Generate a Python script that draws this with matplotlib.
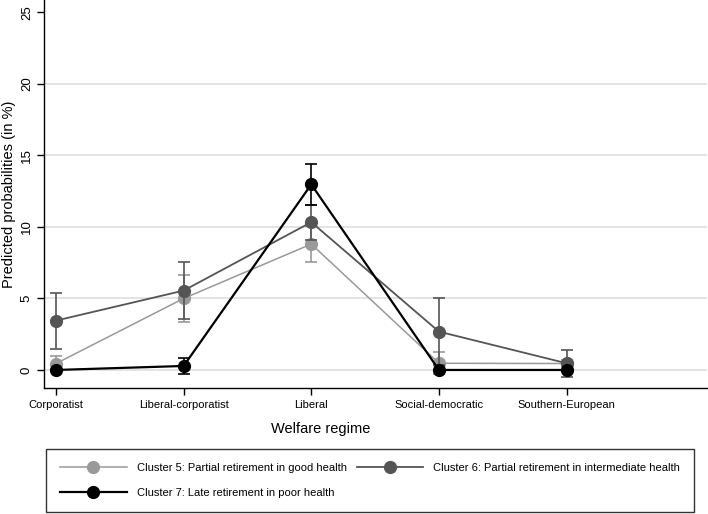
import numpy as np
import matplotlib
matplotlib.use("Agg")
import matplotlib.pyplot as plt

plt.rcParams['font.family'] = ['Liberation Sans', 'DejaVu Sans']

regimes = ['Corporatist', 'Liberal-corporatist', 'Liberal', 'Social-democratic', 'Southern-European']

# predicted probabilities (%) with lower / upper CI
c5_val = [0.45, 5.0, 8.8, 0.47, 0.45]
c5_lo = [-0.05, 3.35, 7.57, -0.3, 0.2]
c5_hi = [0.95, 6.65, 10.03, 1.24, 0.7]

c6_val = [3.45, 5.55, 10.33, 2.68, 0.47]
c6_lo = [1.5, 3.55, 9.1, 0.36, -0.46]
c6_hi = [5.4, 7.55, 11.5, 5.0, 1.4]

c7_val = [0.0, 0.28, 12.97, 0.0, 0.0]
c7_lo = [0.0, -0.26, 11.5, 0.0, 0.0]
c7_hi = [0.0, 0.82, 14.4, 0.0, 0.0]

series = [
    ('Cluster 5: Partial retirement in good health', c5_val, c5_lo, c5_hi, '#999999', 1.1),
    ('Cluster 6: Partial retirement in intermediate health', c6_val, c6_lo, c6_hi, '#555555', 1.3),
    ('Cluster 7: Late retirement in poor health', c7_val, c7_lo, c7_hi, '#000000', 1.6),
]

fig = plt.figure(figsize=(7.08, 5.14), dpi=100)
ax = fig.add_axes([44 / 708, 1 - 388 / 514, 663 / 708, 388 / 514])

x = np.arange(1, len(regimes) + 1)
handles = []
for i, (name, val, lo, hi, col, lw) in enumerate(series):
    val = np.array(val)
    yerr = np.vstack([val - np.array(lo), np.array(hi) - val])
    ax.errorbar(x, val, yerr=yerr, fmt='none', ecolor=col, elinewidth=1.2,
                capsize=4, capthick=1.2, zorder=2 + i)
    h, = ax.plot(x, val, color=col, lw=lw, marker='o', markersize=8.5,
                 markerfacecolor=col, markeredgecolor=col, zorder=3 + i, label=name)
    handles.append(h)

ax.set_xlim(0.906, 6.1)
ax.set_ylim(-1.26, 25.86)
ax.set_xticks(x)
ax.set_xticklabels(regimes, fontsize=8)
ax.set_yticks([0, 5, 10, 15, 20, 25])
ax.set_yticklabels(['0', '5', '10', '15', '20', '25'], fontsize=9.5, rotation=90, va='center')
ax.tick_params(axis='both', length=5, width=1, color='black')
ax.tick_params(axis='y', pad=3)
ax.tick_params(axis='x', pad=4)

for yv in [0, 5, 10, 15, 20]:
    ax.axhline(yv, color='#dcdcdc', lw=1.1, zorder=0)

for s in ['top', 'right']:
    ax.spines[s].set_visible(False)
for s in ['left', 'bottom']:
    ax.spines[s].set_linewidth(1.0)

ax.set_ylabel('Predicted probabilities (in %)', fontsize=10.5)
ax.yaxis.set_label_coords(-28 / 663, 0.5)
fig.text(321 / 708, 1 - 429 / 514, 'Welfare regime', fontsize=10.5, ha='center', va='center')

leg = fig.legend([handles[0], handles[2], handles[1]],
                 [series[0][0], series[2][0], series[1][0]],
                 ncol=2, loc='lower left', mode='expand',
                 bbox_to_anchor=(46 / 708, 2 / 514, 648 / 708, 61 / 514),
                 fontsize=8, frameon=True, fancybox=False, edgecolor='black',
                 handlelength=6.0, handletextpad=0.9, columnspacing=2.0,
                 labelspacing=1.35, borderaxespad=0, borderpad=1.25)
leg.get_frame().set_linewidth(1.0)

fig.savefig('out.png', dpi=100)
